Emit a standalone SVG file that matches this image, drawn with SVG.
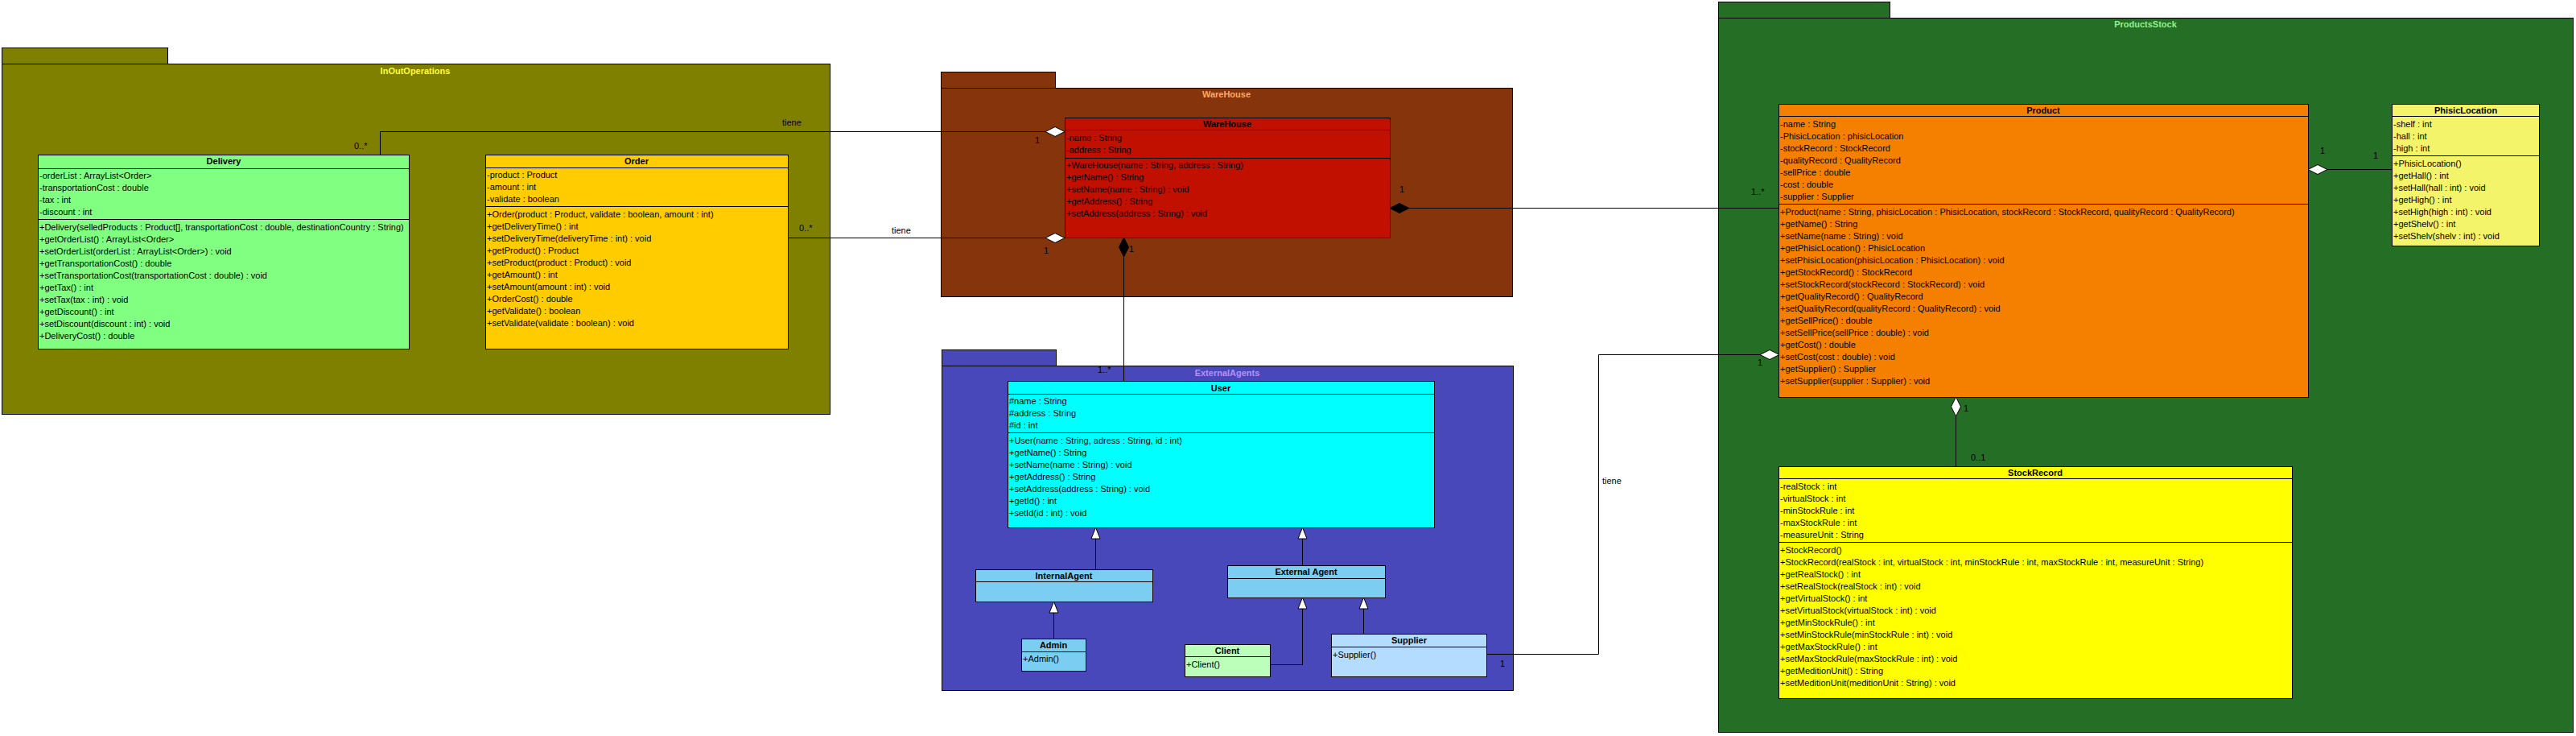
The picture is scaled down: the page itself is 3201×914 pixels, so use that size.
<svg xmlns="http://www.w3.org/2000/svg" width="3201" height="914" viewBox="0 0 3201 914">
<style>
.pk{stroke:#000;stroke-width:1}
.c{stroke:#000;stroke-width:1}
.s{stroke:#000;stroke-width:1;fill:none}
text{font-family:"Liberation Sans",Arial,sans-serif;font-size:11px;fill:#000}
.h{font-weight:bold;text-anchor:middle}
.pl{font-weight:bold;text-anchor:middle}
.w{fill:#fff;stroke:#000;stroke-width:1}
.k{fill:#000;stroke:#000;stroke-width:1}
</style>
<rect x="0" y="0" width="3201" height="914" fill="#fff"/>

<g id="pkg-inout">
<rect class="pk" x="2.5" y="59.5" width="206" height="20" fill="#808000"/>
<rect class="pk" x="2.5" y="79.5" width="1029" height="435" fill="#808000"/>
<text class="pl" x="516" y="92" style="fill:#ffff33">InOutOperations</text>
</g>
<g id="pkg-warehouse">
<rect class="pk" x="1169.5" y="89.5" width="142" height="20" fill="#86340c"/>
<rect class="pk" x="1169.5" y="109.5" width="710" height="259" fill="#86340c"/>
<text class="pl" x="1524" y="121" style="fill:#ffa868">WareHouse</text>
</g>
<g id="pkg-external">
<rect class="pk" x="1170.5" y="434.5" width="142" height="20" fill="#4848bb"/>
<rect class="pk" x="1170.5" y="454.5" width="710" height="403" fill="#4848bb"/>
<text class="pl" x="1525" y="467" style="fill:#b890ff">ExternalAgents</text>
</g>
<g id="pkg-products">
<rect class="pk" x="2135.5" y="2.5" width="213" height="20" fill="#256e25"/>
<rect class="pk" x="2135.5" y="22.5" width="1062" height="887" fill="#256e25"/>
<text class="pl" x="2666" y="34" style="fill:#90f090">ProductsStock</text>
</g>

<g id="connectors">
<path class="s" d="M472.5,192 V163.5 H1299"/>
<polygon class="w" points="1299,163.5 1311,157.5 1323,163.5 1311,169.5"/>
<text x="440" y="185">0..*</text>
<text x="972" y="156">tiene</text>
<text x="1286" y="178">1</text>

<path class="s" d="M979,295.5 H1299"/>
<polygon class="w" points="1299,295.5 1311,289.5 1323,295.5 1311,301.5"/>
<text x="993" y="287">0..*</text>
<text x="1108" y="290">tiene</text>
<text x="1297" y="315">1</text>

<path class="s" d="M1396.5,319 V473"/>
<polygon class="k" points="1396.5,295 1402.5,307 1396.5,319 1390.5,307"/>
<text x="1403" y="313">1</text>
<text x="1364" y="463">1..*</text>

<path class="s" d="M1751,258.5 H2210"/>
<polygon class="k" points="1727,258.5 1739,252.5 1751,258.5 1739,264.5"/>
<text x="1739" y="239">1</text>
<text x="2176" y="242">1..*</text>

<path class="s" d="M1847,812.5 H1986.5 V440.5 H2187"/>
<polygon class="w" points="2187,440.5 2199,434.5 2211,440.5 2199,446.5"/>
<rect x="1987" y="589" width="30" height="16" fill="#fff"/>
<text x="1991" y="601">tiene</text>
<text x="1864" y="828">1</text>
<text x="2184" y="454">1</text>

<path class="s" d="M2892,210.5 H2972"/>
<polygon class="w" points="2868,210.5 2880,204.5 2892,210.5 2880,216.5"/>
<text x="2883" y="191">1</text>
<text x="2949" y="197">1</text>

<path class="s" d="M2430.5,517 V579"/>
<polygon class="w" points="2430.5,493 2436.5,505 2430.5,517 2424.5,505"/>
<text x="2440" y="511">1</text>
<text x="2449" y="572">0..1</text>

<path class="s" d="M1361.5,707 V669"/>
<polygon class="w" points="1361.5,655 1367,669 1356,669"/>
<path class="s" d="M1618.5,702 V669"/>
<polygon class="w" points="1618.5,655 1624,669 1613,669"/>
<path class="s" d="M1309.5,793 V761"/>
<polygon class="w" points="1309.5,747 1315,761 1304,761"/>
<path class="s" d="M1578,825.5 H1618.5 V756"/>
<polygon class="w" points="1618.5,742 1624,756 1613,756"/>
<path class="s" d="M1694.5,787 V756"/>
<polygon class="w" points="1694.5,742 1700,756 1689,756"/>
</g>

<g id="delivery">
<rect class="c" x="47.5" y="192.5" width="461" height="241" fill="#80ff80"/>
<path class="s" d="M47.5,209.5 H508.5 M47.5,272.5 H508.5"/>
<text class="h" x="278" y="204">Delivery</text>
<text x="49" y="222">-orderList : ArrayList&lt;Order&gt;</text>
<text x="49" y="237">-transportationCost : double</text>
<text x="49" y="252">-tax : int</text>
<text x="49" y="267">-discount : int</text>
<text x="49" y="286">+Delivery(selledProducts : Product[], transportationCost : double, destinationCountry : String)</text>
<text x="49" y="301">+getOrderList() : ArrayList&lt;Order&gt;</text>
<text x="49" y="316">+setOrderList(orderList : ArrayList&lt;Order&gt;) : void</text>
<text x="49" y="331">+getTransportationCost() : double</text>
<text x="49" y="346">+setTransportationCost(transportationCost : double) : void</text>
<text x="49" y="361">+getTax() : int</text>
<text x="49" y="376">+setTax(tax : int) : void</text>
<text x="49" y="391">+getDiscount() : int</text>
<text x="49" y="406">+setDiscount(discount : int) : void</text>
<text x="49" y="421">+DeliveryCost() : double</text>
</g>

<g id="order">
<rect class="c" x="603.5" y="192.5" width="376" height="241" fill="#ffcc00"/>
<path class="s" d="M603.5,208.5 H979.5 M603.5,256.5 H979.5"/>
<text class="h" x="791" y="204">Order</text>
<text x="605" y="221">-product : Product</text>
<text x="605" y="236">-amount : int</text>
<text x="605" y="251">-validate : boolean</text>
<text x="605" y="270">+Order(product : Product, validate : boolean, amount : int)</text>
<text x="605" y="285">+getDeliveryTime() : int</text>
<text x="605" y="300">+setDeliveryTime(deliveryTime : int) : void</text>
<text x="605" y="315">+getProduct() : Product</text>
<text x="605" y="330">+setProduct(product : Product) : void</text>
<text x="605" y="345">+getAmount() : int</text>
<text x="605" y="360">+setAmount(amount : int) : void</text>
<text x="605" y="375">+OrderCost() : double</text>
<text x="605" y="390">+getValidate() : boolean</text>
<text x="605" y="405">+setValidate(validate : boolean) : void</text>
</g>

<g id="warehouse">
<rect class="c" x="1323.5" y="146.5" width="404" height="149" fill="#c11000"/>
<path class="s" d="M1323.5,161.5 H1727.5 M1323.5,196.5 H1727.5"/>
<text class="h" x="1525" y="158">WareHouse</text>
<text x="1325" y="175">-name : String</text>
<text x="1325" y="190">-address : String</text>
<text x="1325" y="209">+WareHouse(name : String, address : String)</text>
<text x="1325" y="224">+getName() : String</text>
<text x="1325" y="239">+setName(name : String) : void</text>
<text x="1325" y="254">+getAddress() : String</text>
<text x="1325" y="269">+setAddress(address : String) : void</text>
</g>

<g id="user">
<rect class="c" x="1252.5" y="473.5" width="530" height="182" fill="#00ffff"/>
<path class="s" d="M1252.5,489.5 H1782.5 M1252.5,537.5 H1782.5"/>
<text class="h" x="1517" y="486">User</text>
<text x="1254" y="502">#name : String</text>
<text x="1254" y="517">#address : String</text>
<text x="1254" y="532">#id : int</text>
<text x="1254" y="551">+User(name : String, adress : String, id : int)</text>
<text x="1254" y="566">+getName() : String</text>
<text x="1254" y="581">+setName(name : String) : void</text>
<text x="1254" y="596">+getAddress() : String</text>
<text x="1254" y="611">+setAddress(address : String) : void</text>
<text x="1254" y="626">+getId() : int</text>
<text x="1254" y="641">+setId(id : int) : void</text>
</g>

<g id="internal-agent">
<rect class="c" x="1212.5" y="707.5" width="220" height="40" fill="#7ccdf2"/>
<path class="s" d="M1212.5,722.5 H1432.5"/>
<text class="h" x="1322" y="719">InternalAgent</text>
</g>

<g id="external-agent">
<rect class="c" x="1525.5" y="702.5" width="196" height="40" fill="#7ccdf2"/>
<path class="s" d="M1525.5,718.5 H1721.5"/>
<text class="h" x="1623" y="714">External Agent</text>
</g>

<g id="admin">
<rect class="c" x="1269.5" y="793.5" width="80" height="40" fill="#7ccdf2"/>
<path class="s" d="M1269.5,809.5 H1349.5"/>
<text class="h" x="1309" y="805">Admin</text>
<text x="1271" y="822">+Admin()</text>
</g>

<g id="client">
<rect class="c" x="1472.5" y="800.5" width="106" height="40" fill="#bbffbb"/>
<path class="s" d="M1472.5,815.5 H1578.5"/>
<text class="h" x="1525" y="812">Client</text>
<text x="1474" y="829">+Client()</text>
</g>

<g id="supplier">
<rect class="c" x="1654.5" y="787.5" width="193" height="53" fill="#b3dcff"/>
<path class="s" d="M1654.5,803.5 H1847.5"/>
<text class="h" x="1751" y="799">Supplier</text>
<text x="1656" y="817">+Supplier()</text>
</g>

<g id="product">
<rect class="c" x="2210.5" y="129.5" width="658" height="364" fill="#f58000"/>
<path class="s" d="M2210.5,144.5 H2868.5 M2210.5,253.5 H2868.5"/>
<text class="h" x="2539" y="141">Product</text>
<text x="2212" y="158">-name : String</text>
<text x="2212" y="173">-PhisicLocation : phisicLocation</text>
<text x="2212" y="188">-stockRecord : StockRecord</text>
<text x="2212" y="203">-qualityRecord : QualityRecord</text>
<text x="2212" y="218">-sellPrice : double</text>
<text x="2212" y="233">-cost : double</text>
<text x="2212" y="248">-supplier : Supplier</text>
<text x="2212" y="267">+Product(name : String, phisicLocation : PhisicLocation, stockRecord : StockRecord, qualityRecord : QualityRecord)</text>
<text x="2212" y="282">+getName() : String</text>
<text x="2212" y="297">+setName(name : String) : void</text>
<text x="2212" y="312">+getPhisicLocation() : PhisicLocation</text>
<text x="2212" y="327">+setPhisicLocation(phisicLocation : PhisicLocation) : void</text>
<text x="2212" y="342">+getStockRecord() : StockRecord</text>
<text x="2212" y="357">+setStockRecord(stockRecord : StockRecord) : void</text>
<text x="2212" y="372">+getQualityRecord() : QualityRecord</text>
<text x="2212" y="387">+setQualityRecord(qualityRecord : QualityRecord) : void</text>
<text x="2212" y="402">+getSellPrice() : double</text>
<text x="2212" y="417">+setSellPrice(sellPrice : double) : void</text>
<text x="2212" y="432">+getCost() : double</text>
<text x="2212" y="447">+setCost(cost : double) : void</text>
<text x="2212" y="462">+getSupplier() : Supplier</text>
<text x="2212" y="477">+setSupplier(supplier : Supplier) : void</text>
</g>

<g id="phisic-location">
<rect class="c" x="2972.5" y="129.5" width="183" height="176" fill="#f4f46a"/>
<path class="s" d="M2972.5,144.5 H3155.5 M2972.5,193.5 H3155.5"/>
<text class="h" x="3064" y="141">PhisicLocation</text>
<text x="2974" y="158">-shelf : int</text>
<text x="2974" y="173">-hall : int</text>
<text x="2974" y="188">-high : int</text>
<text x="2974" y="207">+PhisicLocation()</text>
<text x="2974" y="222">+getHall() : int</text>
<text x="2974" y="237">+setHall(hall : int) : void</text>
<text x="2974" y="252">+getHigh() : int</text>
<text x="2974" y="267">+setHigh(high : int) : void</text>
<text x="2974" y="282">+getShelv() : int</text>
<text x="2974" y="297">+setShelv(shelv : int) : void</text>
</g>

<g id="stock-record">
<rect class="c" x="2210.5" y="579.5" width="638" height="288" fill="#ffff00"/>
<path class="s" d="M2210.5,594.5 H2848.5 M2210.5,673.5 H2848.5"/>
<text class="h" x="2529" y="591">StockRecord</text>
<text x="2212" y="608">-realStock : int</text>
<text x="2212" y="623">-virtualStock : int</text>
<text x="2212" y="638">-minStockRule : int</text>
<text x="2212" y="653">-maxStockRule : int</text>
<text x="2212" y="668">-measureUnit : String</text>
<text x="2212" y="687">+StockRecord()</text>
<text x="2212" y="702">+StockRecord(realStock : int, virtualStock : int, minStockRule : int, maxStockRule : int, measureUnit : String)</text>
<text x="2212" y="717">+getRealStock() : int</text>
<text x="2212" y="732">+setRealStock(realStock : int) : void</text>
<text x="2212" y="747">+getVirtualStock() : int</text>
<text x="2212" y="762">+setVirtualStock(virtualStock : int) : void</text>
<text x="2212" y="777">+getMinStockRule() : int</text>
<text x="2212" y="792">+setMinStockRule(minStockRule : int) : void</text>
<text x="2212" y="807">+getMaxStockRule() : int</text>
<text x="2212" y="822">+setMaxStockRule(maxStockRule : int) : void</text>
<text x="2212" y="837">+getMeditionUnit() : String</text>
<text x="2212" y="852">+setMeditionUnit(meditionUnit : String) : void</text>
</g>
</svg>
